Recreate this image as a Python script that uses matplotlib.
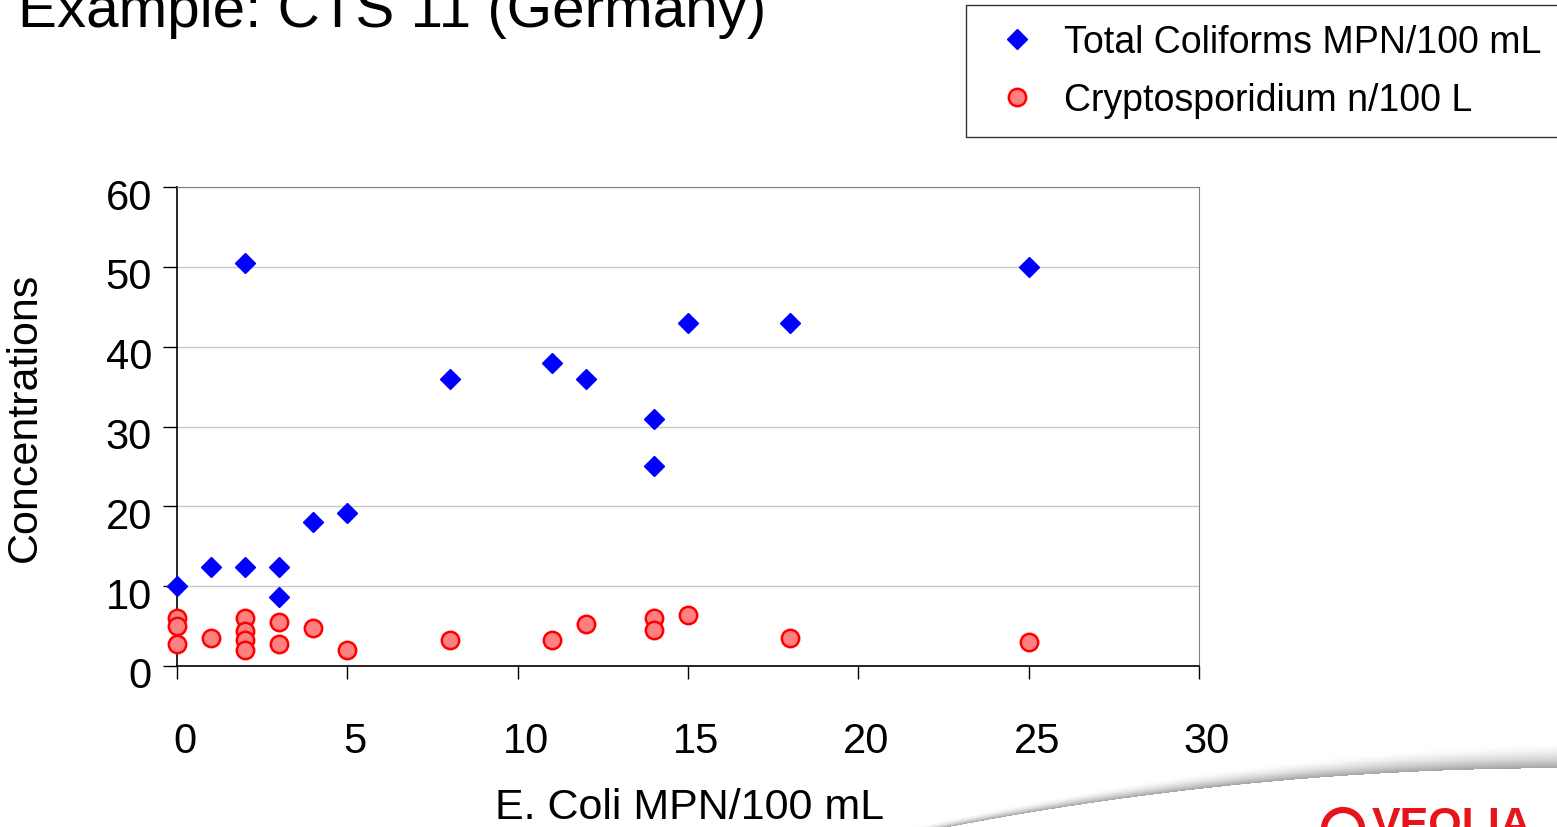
import matplotlib
matplotlib.use("Agg")
import matplotlib.pyplot as plt
import matplotlib.transforms as mtrans
import numpy as np
from matplotlib.patches import Circle

plt.rcParams['font.family'] = ['Liberation Sans', 'DejaVu Sans']

# Data
coli_x = [0, 1, 2, 2, 3, 3, 4, 5, 8, 11, 12, 14, 14, 15, 18, 25]
coliforms = [10, 12.4, 12.4, 50.5, 12.4, 8.6, 18, 19.2, 36, 38, 36, 31, 25, 43, 43, 50]

crypto_x = [0, 0, 0, 1, 2, 2, 2, 2, 3, 3, 4, 5, 8, 11, 12, 14, 14, 15, 18, 25]
crypto = [6.0, 5.0, 2.7, 3.5, 6.0, 4.4, 3.2, 2.0, 5.5, 2.7, 4.7, 2.0, 3.2, 3.2, 5.2, 6.0, 4.5, 6.4, 3.5, 3.0]

x_ticks = [0, 5, 10, 15, 20, 25, 30]
y_ticks = [0, 10, 20, 30, 40, 50, 60]

W, H = 1557, 828
fig = plt.figure(figsize=(W / 100, H / 100), dpi=100)

# ---- decoration layer (pixel coords): swoosh + logo ----
bg = fig.add_axes([0, 0, 1, 1], zorder=-5)
bg.axis('off')
gx = np.arange(860, W + 1)
gy = np.arange(720, H + 1)
coef = np.polyfit([940, 1113, 1347, 1557], [830, 798, 778, 768], 2)
edge = np.polyval(coef, gx)
thick = np.interp(gx, [900, 1557], [6, 26])
X, Y = np.meshgrid(gx, gy)
E = np.broadcast_to(edge, X.shape)
T = np.broadcast_to(thick, X.shape)
d = E - Y
img = np.ones(X.shape + (3,))
frac = np.clip(1 - d / T, 0, 1)
shade = 1 - 0.36 * frac ** 1.8
shade[d < 0] = 1.0
for c in range(3):
    img[..., c] = shade
bg.imshow(img, extent=(860, W + 1, H + 1, 720), aspect='auto', interpolation='bilinear')
bg.set_xlim(0, W)
bg.set_ylim(H, 0)
ring = Circle((1343, 830), 19, fill=False, ec='#e8141c', lw=4.5)
bg.add_patch(ring)
bg.text(1372, 806, 'VEOLIA', color='#e8141c', fontsize=31, fontweight='bold',
        ha='left', va='top')

# ---- main chart ----
ax = fig.add_axes([177 / W, 1 - 667 / H, (1199 - 177) / W, (667 - 188) / H])
ax.set_xlim(0, 30)
ax.set_ylim(0, 60)

ax.yaxis.grid(True, color='#c8c8c8', lw=1)
ax.set_axisbelow(True)

ax.plot(coli_x, coliforms, ls='none', marker='D', markersize=10.5, color='#0000ff',
        mec='#0000ff', label='Total Coliforms MPN/100 mL', zorder=3, clip_on=False)
ax.plot(crypto_x, crypto, ls='none', marker='o', markersize=12.5, mfc='#ff8080',
        mec='#ff0000', mew=1.8, label='Cryptosporidium n/100 L', zorder=3, clip_on=False)

ax.set_xticks(x_ticks)
ax.set_yticks(y_ticks)
ax.tick_params(axis='x', direction='out', length=9.5, width=1, labelsize=30, pad=30)
ax.tick_params(axis='y', direction='out', length=10, width=1, labelsize=30, pad=8)
xoff = mtrans.ScaledTranslation(8 / 100, 0, fig.dpi_scale_trans)
for lab in ax.get_xticklabels():
    lab.set_transform(lab.get_transform() + xoff)
yoff = mtrans.ScaledTranslation(0, -6 / 100, fig.dpi_scale_trans)
for lab in ax.get_yticklabels():
    lab.set_transform(lab.get_transform() + yoff)
for s in ['top', 'right']:
    ax.spines[s].set_color('#808080')
for s in ['left', 'bottom']:
    ax.spines[s].set_color('black')
    ax.spines[s].set_linewidth(1.2)

ax.set_xlabel('E. Coli MPN/100 mL', fontsize=31, va='center')
ax.xaxis.set_label_coords((690 - 177) / 1022, (667 - 808) / 479)
ax.set_ylabel('Concentrations', fontsize=31, va='center')
ax.yaxis.set_label_coords((25 - 177) / 1022, (667 - 417) / 479)

fig.text(18 / W, 1 - 27 / H, 'Example: CTS 11 (Germany)', fontsize=42,
         ha='left', va='baseline')

leg = fig.legend(loc='upper left', bbox_to_anchor=(966 / W, 1 - 129 / H, 0.4, 123 / H),
                 mode='expand', fontsize=27, frameon=True, fancybox=False,
                 edgecolor='black', borderpad=0.5, labelspacing=0.6,
                 handlelength=1.73, handletextpad=0.38, borderaxespad=0)
leg.get_frame().set_linewidth(1)

fig.savefig('out.png', dpi=100)
